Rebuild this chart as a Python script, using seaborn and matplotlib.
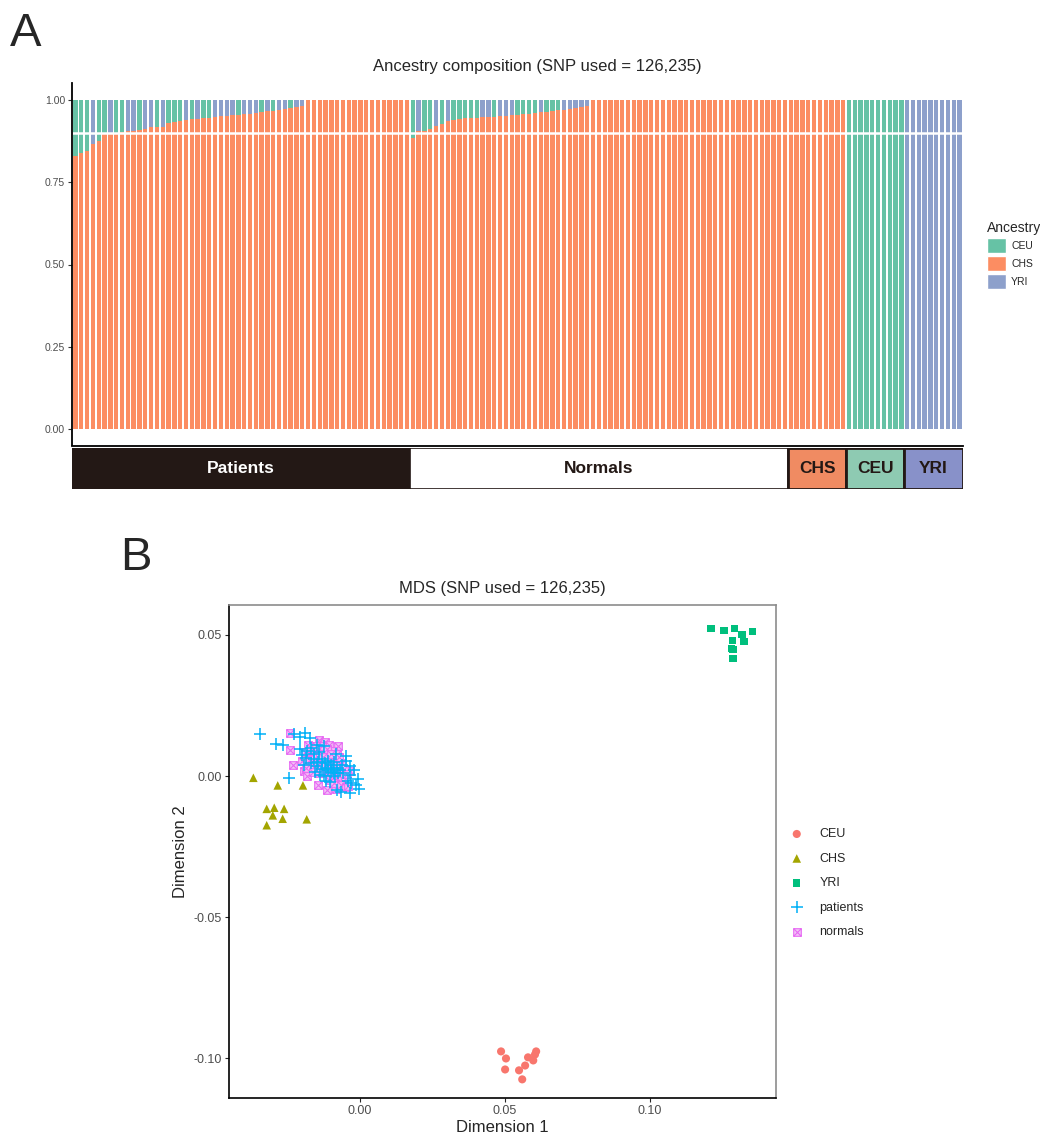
import numpy as np
import pandas as pd
import matplotlib.pyplot as plt
import seaborn as sns
from matplotlib.patches import Patch, Rectangle
from matplotlib.path import Path
from matplotlib.markers import MarkerStyle

# ---------------- Panel A data ----------------
# CHS fraction per individual (sorted), rest goes to CEU (G) or YRI (B)
patients_chs = [0.83, 0.84, 0.845, 0.866, 0.875, 0.897, 0.898, 0.90, 0.903, 0.907,
                0.907, 0.91, 0.913, 0.917, 0.918, 0.918, 0.93, 0.932, 0.937, 0.94,
                0.941, 0.942, 0.945, 0.946, 0.948, 0.95, 0.951, 0.953, 0.955, 0.957,
                0.958, 0.96, 0.962, 0.965, 0.967, 0.97, 0.972, 0.975, 0.978, 0.982] + [1.0] * 18
patients_tag = "GGGBGGBGGBBGBBGBGGG" + "BGBGGBBBBGBBBGBGBBGBB"

normals_chs = [0.885, 0.907, 0.907, 0.912, 0.92, 0.926, 0.937, 0.94, 0.942, 0.944,
               0.945, 0.946, 0.947, 0.948, 0.949, 0.950, 0.951, 0.953, 0.955, 0.957,
               0.958, 0.96, 0.962, 0.964, 0.966, 0.968, 0.97, 0.972, 0.975, 0.978,
               0.981] + [1.0] * 34
normals_tag = "GBGGBGBGGGGGBBGBBBGGGGBGGGBBBBB"

ref_groups = ["CHS", "CEU", "YRI"]
ref_sizes = [10, 10, 10]

group_names = ["Patients", "Normals"] + ref_groups
group_fill = ["#231815", "#FFFFFF", "#F08B62", "#8ECAB2", "#8891C9"]
group_text = ["white", "#231815", "#231815", "#231815", "#231815"]

CEU_C, CHS_C, YRI_C = "#66C2A5", "#FC8D62", "#8DA0CB"

# ---------------- Panel B data ----------------
ceu_pts = [(0.0486, -0.0975), (0.0503, -0.1000), (0.0500, -0.1039), (0.0548, -0.1042),
           (0.0559, -0.1074), (0.0569, -0.1025), (0.0579, -0.0996), (0.0597, -0.1007),
           (0.0603, -0.0986), (0.0607, -0.0975)]
chs_pts = [(-0.0368, -0.0006), (-0.0284, -0.0033), (-0.0197, -0.0033), (-0.0322, -0.0116),
           (-0.0296, -0.0112), (-0.0262, -0.0116), (-0.0301, -0.0139), (-0.0267, -0.0151),
           (-0.0322, -0.0174), (-0.0184, -0.0153)]
yri_pts = [(0.1210, 0.0523), (0.1255, 0.0516), (0.1290, 0.0523), (0.1317, 0.0502),
           (0.1352, 0.0512), (0.1283, 0.0481), (0.1324, 0.0477), (0.1280, 0.0452),
           (0.1286, 0.0449), (0.1286, 0.0417)]
patients_pts = [(-0.0345, 0.0148), (-0.0290, 0.0113), (-0.0266, 0.0110), (-0.0228, 0.0150),
                (-0.0207, 0.0140), (-0.0190, 0.0152), (-0.0172, 0.0135), (-0.0207, 0.0095),
                (-0.0183, 0.0090), (-0.0168, 0.0100), (-0.0200, 0.0075), (-0.0185, 0.0065),
                (-0.0160, 0.0078), (-0.0140, 0.0085), (-0.0083, 0.0078), (-0.0048, 0.0070),
                (-0.0195, 0.0040), (-0.0150, 0.0035), (-0.0117, 0.0030), (-0.0095, 0.0025),
                (-0.0062, 0.0040), (-0.0035, 0.0035), (-0.0245, -0.0005), (-0.0117, -0.0018),
                (-0.0103, -0.0022), (-0.0034, 0.0005), (-0.0040, -0.0018), (-0.0006, -0.0012),
                (-0.0003, -0.0045), (-0.0030, -0.0025), (-0.0034, -0.0060), (-0.0080, -0.0050),
                (-0.0066, -0.0055), (-0.0138, 0.0005), (-0.0125, 0.0000), (-0.0090, 0.0012),
                (-0.0085, 0.0000), (-0.0075, 0.0012), (-0.0160, 0.0060), (-0.0145, 0.0050),
                (-0.0130, 0.0060), (-0.0120, 0.0045), (-0.0110, 0.0055), (-0.0100, 0.0040),
                (-0.0090, 0.0050), (-0.0080, 0.0030), (-0.0070, 0.0020), (-0.0100, 0.0015),
                (-0.0110, 0.0020), (-0.0130, 0.0025), (-0.0155, 0.0015), (-0.0170, 0.0045),
                (-0.0060, 0.0010), (-0.0050, 0.0055), (-0.0020, 0.0020), (-0.0015, -0.0030),
                (-0.0150, 0.0110), (-0.0125, 0.0105)]
normals_pts = [(-0.0241, 0.0153), (-0.0241, 0.0092), (-0.0232, 0.0039), (-0.0140, 0.0127),
               (-0.0120, 0.0120), (-0.0106, 0.0110), (-0.0075, 0.0106), (-0.0178, 0.0110),
               (-0.0146, -0.0033), (-0.0115, -0.0049), (-0.0058, -0.0018), (-0.0083, -0.0046),
               (-0.0034, 0.0018), (-0.0195, 0.0018), (-0.0183, 0.0000),
               (-0.0180, 0.0070), (-0.0172, 0.0055), (-0.0165, 0.0040), (-0.0160, 0.0085),
               (-0.0155, 0.0065), (-0.0150, 0.0045), (-0.0148, 0.0025), (-0.0142, 0.0095),
               (-0.0138, 0.0070), (-0.0135, 0.0050), (-0.0130, 0.0030), (-0.0128, 0.0010),
               (-0.0125, 0.0085), (-0.0120, 0.0060), (-0.0118, 0.0040), (-0.0112, 0.0020),
               (-0.0110, 0.0075), (-0.0105, 0.0050), (-0.0102, 0.0000), (-0.0098, 0.0030),
               (-0.0095, 0.0090), (-0.0092, 0.0065), (-0.0088, 0.0045), (-0.0085, 0.0015),
               (-0.0080, 0.0080), (-0.0078, -0.0005), (-0.0075, 0.0055), (-0.0070, 0.0030),
               (-0.0068, 0.0010), (-0.0062, 0.0045), (-0.0190, 0.0085), (-0.0200, 0.0055),
               (-0.0185, 0.0030), (-0.0170, 0.0100), (-0.0162, 0.0015), (-0.0140, 0.0010),
               (-0.0132, 0.0105), (-0.0115, 0.0095), (-0.0108, -0.0015), (-0.0100, 0.0080),
               (-0.0090, -0.0025), (-0.0082, 0.0035), (-0.0072, 0.0068), (-0.0065, -0.0030),
               (-0.0055, 0.0025), (-0.0050, -0.0040), (-0.0045, 0.0008), (-0.0040, -0.0035),
               (-0.0152, 0.0105), (-0.0128, 0.0068)]

# ---------------- build bar table ----------------
rows = []
for chs_list, tags in [(patients_chs, patients_tag), (normals_chs, normals_tag)]:
    for i, c in enumerate(chs_list):
        rest = 1 - c
        tag = tags[i] if i < len(tags) else "G"
        rows.append((c, rest if tag == "G" else 0.0, rest if tag == "B" else 0.0))
for g, n in zip(ref_groups, ref_sizes):
    for _ in range(n):
        rows.append((1.0 if g == "CHS" else 0.0, 1.0 if g == "CEU" else 0.0,
                     1.0 if g == "YRI" else 0.0))
df = pd.DataFrame(rows, columns=["CHS", "CEU", "YRI"])
df["idx"] = np.arange(len(df))
df["top"] = df["CHS"] + df["YRI"] + df["CEU"]
df["mid"] = df["CHS"] + df["YRI"]
nbar = len(df)

sns.set_style("white")
plt.rcParams["font.family"] = ["Liberation Sans", "DejaVu Sans"]
plt.rcParams["axes.unicode_minus"] = False

fig = plt.figure(figsize=(10.4, 11.39), dpi=100)

# ---------------- Panel A ----------------
axA = fig.add_axes([72 / 1040, 1 - 445.5 / 1139, 891 / 1040, 362 / 1139])
for col, colr in [("top", CEU_C), ("mid", YRI_C), ("CHS", CHS_C)]:
    sns.barplot(data=df, x="idx", y=col, color=colr, saturation=1, width=0.75,
                linewidth=0, errorbar=None, ax=axA)
axA.axhline(0.9, color="white", lw=1.8)
axA.set_xlim(-0.6, nbar - 0.4)
axA.set_ylim(-0.05, 1.05)
axA.set_yticks([0, 0.25, 0.5, 0.75, 1.0])
axA.set_yticklabels(["0.00", "0.25", "0.50", "0.75", "1.00"], fontsize=7.5, color="#4D4D4D")
axA.set_xticks([])
axA.set_xlabel("")
axA.set_ylabel("")
axA.tick_params(axis="y", length=3, width=0.8, color="#333333", left=True, pad=2)
for s in ["top", "right"]:
    axA.spines[s].set_visible(False)
for s in ["left", "bottom"]:
    axA.spines[s].set_color("black")
    axA.spines[s].set_linewidth(1.3)

fig.text(537 / 1040, 1 - 67 / 1139, "Ancestry composition (SNP used = 126,235)",
         ha="center", va="center", fontsize=12)

axA.legend(handles=[Patch(facecolor=CEU_C, edgecolor="white", label="CEU"),
                    Patch(facecolor=CHS_C, edgecolor="white", label="CHS"),
                    Patch(facecolor=YRI_C, edgecolor="white", label="YRI")],
           title="Ancestry", loc="upper left", bbox_to_anchor=(982 / 1040, 1 - 216 / 1139),
           bbox_transform=fig.transFigure, frameon=False, fontsize=7.5,
           title_fontsize=10, handlelength=1.8, handleheight=1.8, labelspacing=0.3,
           handletextpad=0.5, borderpad=0, alignment="left")

# group strip
axS = fig.add_axes([72 / 1040, 1 - 489 / 1139, 891 / 1040, 41 / 1139])
sizes = [len(patients_chs), len(normals_chs)] + ref_sizes
start = -0.6
for k, (name, n) in enumerate(zip(group_names, sizes)):
    width = n + (0.1 if k == 0 else 0) + (0.1 if k == len(sizes) - 1 else 0)
    lw = 1.2 if k < 2 else 2.0
    axS.add_patch(Rectangle((start, 0), width, 1, facecolor=group_fill[k],
                            edgecolor="#231815", linewidth=lw))
    axS.text(start + width / 2, 0.5, name, ha="center", va="center", fontsize=12.5,
             fontweight="bold", color=group_text[k])
    start += width
axS.set_xlim(-0.6, nbar - 0.4)
axS.set_ylim(0, 1)
axS.axis("off")

fig.text(10 / 1040, 1 - 12 / 1139, "A", ha="left", va="top", fontsize=34)
fig.text(120 / 1040, 1 - 536 / 1139, "B", ha="left", va="top", fontsize=34)

# ---------------- Panel B ----------------
axB = fig.add_axes([229 / 1040, 1 - 1098 / 1139, 547 / 1040, 493 / 1139])

verts = [(-1, -1), (1, -1), (1, 1), (-1, 1), (-1, -1), (-1, -1), (1, 1), (-1, 1), (1, -1)]
codes = [Path.MOVETO, Path.LINETO, Path.LINETO, Path.LINETO, Path.CLOSEPOLY,
         Path.MOVETO, Path.LINETO, Path.MOVETO, Path.LINETO]
box_x = MarkerStyle(Path(verts, codes))

# drawing order: normals under patients; legend order fixed below
mds_sets = [
    ("CEU", ceu_pts, dict(marker="o", color="#F8766D", s=34, edgecolor="none")),
    ("CHS", chs_pts, dict(marker="^", color="#A3A500", s=38, edgecolor="none")),
    ("YRI", yri_pts, dict(marker="s", color="#00BF7D", s=28, edgecolor="none")),
    ("normals", normals_pts, dict(marker=box_x, facecolor="#F3C4F6", edgecolor="#E76BF3",
                                  s=30, linewidth=0.8)),
    ("patients", patients_pts, dict(marker="+", color="#00B0F6", s=75, linewidth=1.1)),
]
for name, pts, style in mds_sets:
    arr = np.array(pts)
    sns.scatterplot(x=arr[:, 0], y=arr[:, 1], ax=axB, label=name, **style)

axB.set_xlim(-0.0452, 0.1434)
axB.set_ylim(-0.114, 0.0606)
axB.set_xticks([0.0, 0.05, 0.10])
axB.set_xticklabels(["0.00", "0.05", "0.10"])
axB.set_yticks([-0.10, -0.05, 0.0, 0.05])
axB.set_yticklabels(["-0.10", "-0.05", "0.00", "0.05"])
axB.tick_params(labelsize=9, labelcolor="#4D4D4D", length=3, width=0.8,
                bottom=True, left=True, pad=2)
axB.set_xlabel("Dimension 1", fontsize=12, labelpad=2)
axB.set_ylabel("Dimension 2", fontsize=12, labelpad=4)
for s in ["left", "bottom"]:
    axB.spines[s].set_color("black")
    axB.spines[s].set_linewidth(1.2)
for s in ["top", "right"]:
    axB.spines[s].set_color("#8C8C8C")
    axB.spines[s].set_linewidth(1.2)
axB.set_title("MDS (SNP used = 126,235)", fontsize=12, pad=9)

h, l = axB.get_legend_handles_labels()
order = ["CEU", "CHS", "YRI", "patients", "normals"]
hmap = dict(zip(l, h))
axB.legend([hmap[k] for k in order], order, loc="upper left",
           bbox_to_anchor=(778 / 1040, 1 - 822 / 1139),
           bbox_transform=fig.transFigure, frameon=False, fontsize=9,
           labelspacing=1.0, handletextpad=0.8, borderpad=0, markerscale=1.0)

fig.savefig("out.png", dpi=100)
plt.close(fig)
